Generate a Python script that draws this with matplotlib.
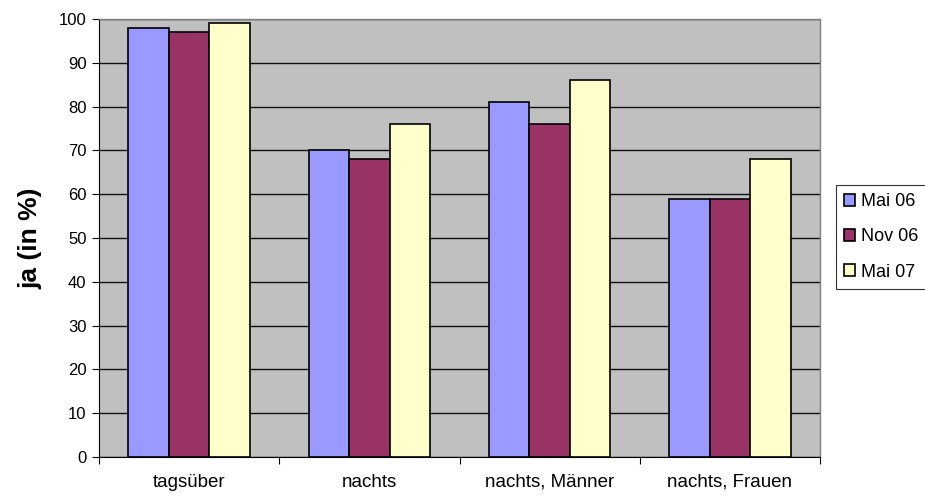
import matplotlib
matplotlib.use("Agg")
import matplotlib.pyplot as plt
import numpy as np

plt.rcParams['font.family'] = ['Liberation Sans', 'DejaVu Sans']

categories = ["tagsüber", "nachts", "nachts, Männer", "nachts, Frauen"]
series_names = ["Mai 06", "Nov 06", "Mai 07"]
mai06 = [98, 70, 81, 59]
nov06 = [97, 68, 76, 59]
mai07 = [99, 76, 86, 68]
colors = ["#9999FF", "#993366", "#FFFFCC"]
yticks = list(range(0, 101, 10))

fig = plt.figure(figsize=(9.25, 4.98), dpi=100)
ax = fig.add_axes([99/925, (498-457)/498, 721/925, 438/498])
ax.set_facecolor("#C0C0C0")

x = np.arange(len(categories))
w = 0.225
for i, (vals, name, col) in enumerate(zip([mai06, nov06, mai07], series_names, colors)):
    ax.bar(x + (i - 1) * w, vals, width=w, color=col, edgecolor="black",
           linewidth=1.2, label=name, zorder=3)

ax.set_xlim(-0.5, len(categories) - 0.5)
ax.set_ylim(0, 100)
ax.set_yticks(yticks)
ax.set_yticklabels([str(t) for t in yticks], fontsize=12)
ax.yaxis.grid(True, color="#111111", linewidth=1.0, zorder=1)
ax.set_axisbelow(True)

ax.set_xticks(np.arange(-0.5, len(categories)), minor=False)
ax.set_xticklabels([])
ax.set_xticks(x, minor=True)
ax.set_xticklabels(categories, minor=True, fontsize=13.5)
ax.tick_params(axis="x", which="minor", length=0, pad=12)
ax.tick_params(axis="x", which="major", length=5, direction="out", color="black")
ax.tick_params(axis="y", length=5, direction="out", color="black", pad=4)

for side in ["top", "right"]:
    ax.spines[side].set_color("#808080")
    ax.spines[side].set_linewidth(1.0)
ax.spines["left"].set_color("black")
ax.spines["bottom"].set_color("black")

ax.set_ylabel("ja (in %)", fontsize=19, fontweight="bold", labelpad=12)

leg = ax.legend(loc="center left", bbox_to_anchor=(836/925, 1 - 237/498),
                bbox_transform=fig.transFigure, fontsize=13, frameon=True,
                fancybox=False, edgecolor="black", handlelength=0.6,
                handleheight=0.6, handletextpad=0.35, borderpad=0.45,
                labelspacing=1.0, borderaxespad=0)
leg.get_frame().set_linewidth(0.8)

fig.savefig("out.png", dpi=100, facecolor="white")
